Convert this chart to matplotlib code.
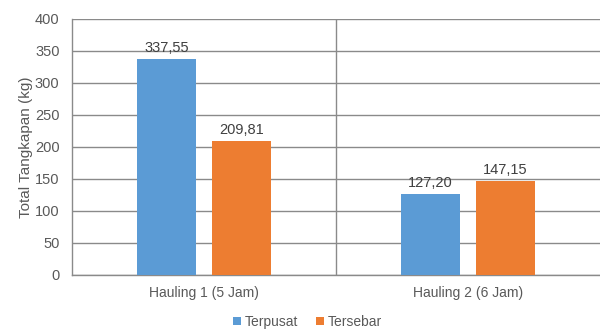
import matplotlib.pyplot as plt
import numpy as np

plt.rcParams['font.family'] = ['Liberation Sans', 'DejaVu Sans']

categories = ['Hauling 1 (5 Jam)', 'Hauling 2 (6 Jam)']
terpusat = [337.55, 127.20]
tersebar = [209.81, 147.15]
labels_terpusat = ['337,55', '127,20']
labels_tersebar = ['209,81', '147,15']

blue = '#5B9BD5'
orange = '#ED7D31'
txt = '#595959'
grid = '#8a8a8a'

fig = plt.figure(figsize=(6, 3.31), dpi=100)
ax = fig.add_axes((72/600, 56/331, 528/600, 256/331))

x = np.arange(len(categories))
w = 0.227
off = 0.142
b1 = ax.bar(x - off, terpusat, w, color=blue, label='Terpusat', zorder=3)
b2 = ax.bar(x + off, tersebar, w, color=orange, label='Tersebar', zorder=3)

for rect, lab in zip(b1, labels_terpusat):
    ax.text(rect.get_x() + rect.get_width()/2, rect.get_height() + 6, lab,
            ha='center', va='bottom', fontsize=10.5, color='#404040', zorder=4)
for rect, lab in zip(b2, labels_tersebar):
    ax.text(rect.get_x() + rect.get_width()/2, rect.get_height() + 6, lab,
            ha='center', va='bottom', fontsize=10.5, color='#404040', zorder=4)

ax.set_xlim(-0.5, 1.5)
ax.set_ylim(0, 400)
ax.set_yticks(np.arange(0, 401, 50))
ax.set_xticks(x)
ax.set_xticklabels(categories)
ax.yaxis.grid(True, color=grid, linewidth=1, zorder=0)
ax.axvline(0.5, color=grid, linewidth=1, zorder=1)
ax.tick_params(length=0, colors=txt)
ax.tick_params(axis='y', labelsize=10.5, pad=9)
ax.tick_params(axis='x', labelsize=10, pad=8)
for s in ['top', 'right']:
    ax.spines[s].set_visible(False)
for s in ['left', 'bottom']:
    ax.spines[s].set_color(grid)
    ax.spines[s].set_linewidth(1)
ax.set_ylabel('Total Tangkapan (kg)', fontsize=11, color=txt, labelpad=1)

fig.legend(handles=[b1, b2], loc='center', bbox_to_anchor=(0.513, 9/331), ncol=2,
           frameon=False, fontsize=10, labelcolor=txt, handlelength=0.55,
           handleheight=0.55, handletextpad=0.3, columnspacing=1.3)

fig.savefig('out.png', dpi=100)
